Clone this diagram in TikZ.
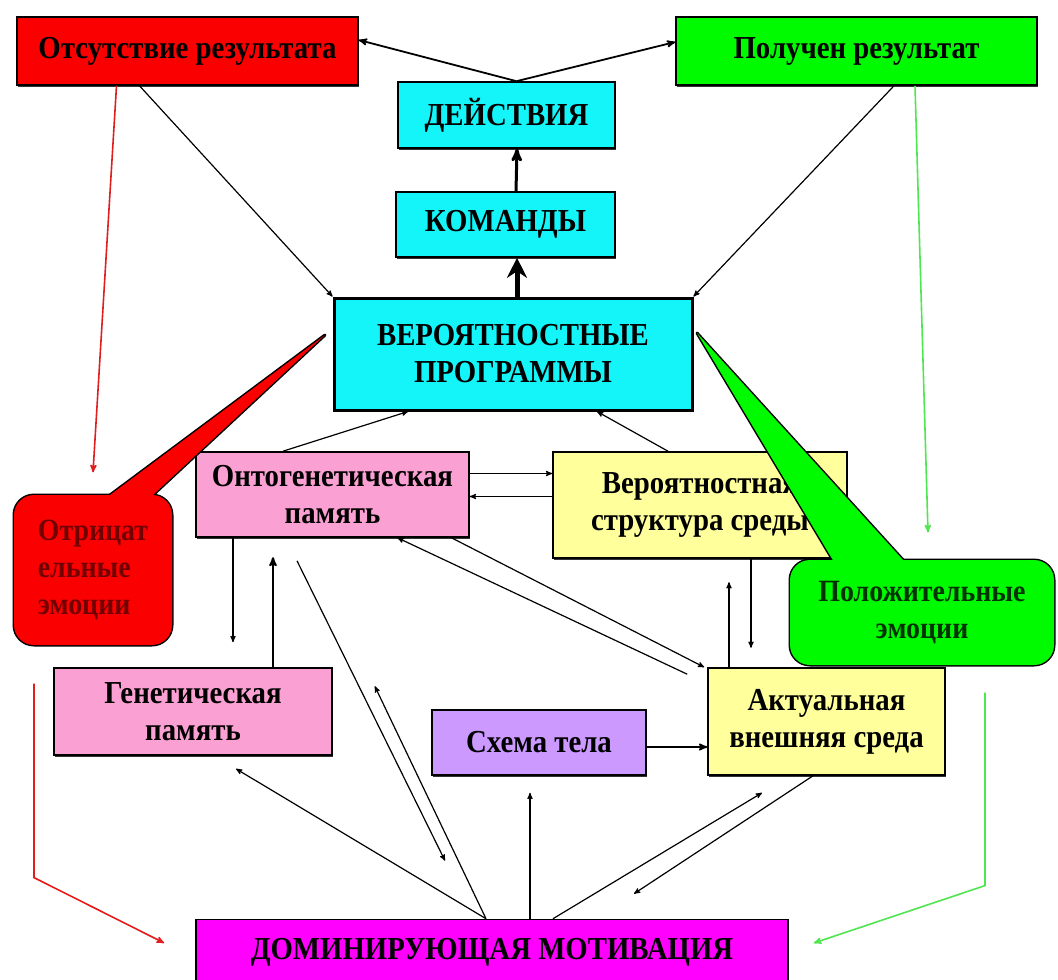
\documentclass[tikz,border=0pt]{standalone}
\usepackage{fontspec}
\setmainfont{Liberation Serif}[FakeStretch=0.9]
\usetikzlibrary{arrows,arrows.meta,shadows}

\definecolor{redbox}{RGB}{250,0,0}
\definecolor{greenbox}{RGB}{0,250,0}
\definecolor{cyanbox}{RGB}{20,245,250}
\definecolor{pinkbox}{RGB}{250,160,210}
\definecolor{yellowbox}{RGB}{255,255,155}
\definecolor{lilacbox}{RGB}{204,153,255}
\definecolor{magentabox}{RGB}{255,0,255}
\definecolor{redline}{RGB}{225,30,30}
\definecolor{greenline}{RGB}{80,230,80}

\begin{document}
\begin{tikzpicture}[
                        x=1pt,
                        y=-1pt,
                        ->,
                        >=stealth',
                        line width=1.2pt
                    ]
                    \tikzstyle{box}=[draw=black,line width=1.6pt,inner sep=0pt,align=center,
                        drop shadow={shadow xshift=1pt,shadow yshift=-2pt,opacity=1,fill=black!80},
                        font=\fontsize{32}{37}\selectfont\bfseries]
                    \tikzstyle{capsbox}=[box,font=\fontsize{32}{37}\selectfont\bfseries]
                    \tikzstyle{callout}=[inner sep=0pt,rounded corners=20pt,
                        preaction={draw=black,line width=3pt},
                        font=\fontsize{31}{37}\selectfont\bfseries]
                    \tikzstyle{pointer}=[-,draw=black,line width=3pt,line join=round]
                    \tikzstyle{thin}=[line width=1.2pt]
                    \tikzstyle{redarrow}=[redline,line width=1.6pt]
                    \tikzstyle{greenarrow}=[greenline,line width=1.6pt]

                    \useasboundingbox (0,0) rectangle (1058,980);

                    % top row
                    \node[box,fill=redbox,minimum width=341pt,minimum height=68pt]   (otsut)  at (187.5,51) {Отсутствие результата};
                    \node[box,fill=greenbox,minimum width=361pt,minimum height=68pt] (poluch) at (856.5,51) {Получен результат};
                    \node[capsbox,fill=cyanbox,minimum width=217pt,minimum height=66pt] (deistv) at (506.5,115) {ДЕЙСТВИЯ};
                    \node[capsbox,fill=cyanbox,minimum width=219pt,minimum height=65pt] (komand) at (505.5,224.5) {КОМАНДЫ};
                    \node[capsbox,fill=cyanbox,line width=3pt,minimum width=358pt,minimum height=112pt] (verprog) at (513,354) {ВЕРОЯТНОСТНЫЕ\\ПРОГРАММЫ};

                    % middle row
                    \node[box,fill=pinkbox,minimum width=273pt,minimum height=85pt]    (onto)   at (332.5,494.5) {Онтогенетическая\\память};
                    \node[box,fill=yellowbox,minimum width=294pt,minimum height=106pt] (verstr) at (700,505) {Вероятностная\\структура среды};

                    % bottom row
                    \node[box,fill=pinkbox,minimum width=278pt,minimum height=87pt]    (genet)  at (193,711.5) {Генетическая\\память};
                    \node[box,fill=lilacbox,minimum width=214pt,minimum height=65pt]   (shema)  at (539,742.5) {Схема тела};
                    \node[box,fill=yellowbox,minimum width=237pt,minimum height=107pt] (aktual) at (826.5,721.5) {Актуальная\\внешняя среда};
                    \node[capsbox,fill=magentabox,minimum width=592pt,minimum height=66pt] (domin) at (492,952.5) {ДОМИНИРУЮЩАЯ МОТИВАЦИЯ};

                    % emotions
                    \coordinate (otrictip) at (325,335);
                    \coordinate (otrica)   at (92.5,508);
                    \coordinate (otricb)   at (139,508);
                    \draw[pointer] (otrica) -- (otrictip) -- (otricb) -- cycle;
                    \node[callout,fill=redbox,text=red!45!black,align=left,minimum width=158pt,minimum height=150pt] (otric) at (93,570) {Отрицат\\ельные\\эмоции};
                    \fill[redbox] (otrica) -- (otrictip) -- (otricb) -- cycle;

                    \coordinate (poloztip) at (697,333);
                    \coordinate (poloza)   at (840,572);
                    \coordinate (polozb)   at (914,572);
                    \draw[pointer] (poloza) -- (poloztip) -- (polozb) -- cycle;
                    \node[callout,fill=greenbox,text=green!20!black,align=center,minimum width=264pt,minimum height=105pt] (poloz) at (922,612.5) {Положительные\\эмоции};
                    \fill[greenbox] (poloza) -- (poloztip) -- (polozb) -- cycle;

                    % feedback from the actions
                    \draw[line width=1.8pt] ([xshift=10pt]deistv.north) -- ([yshift=11pt]otsut.east);
                    \draw[line width=1.8pt] ([xshift=10pt]deistv.north) -- ([yshift=9pt]poluch.west);
                    \draw[line width=3pt] ([xshift=10.5pt]komand.north) -- ([xshift=10.5pt]deistv.south);
                    \draw[-{Stealth[length=20pt,width=20pt]},line width=5pt] ([xshift=4pt]verprog.north) -- ([xshift=4pt]verprog.north |- komand.south);
                    \draw[thin] ([xshift=-48pt]otsut.south) -- (verprog.north west);
                    \draw[thin] ([xshift=37.5pt]poluch.south) -- (verprog.north east);
                    \draw[redarrow] ([xshift=-71pt]otsut.south) -- ([yshift=22pt]otric.north);
                    \draw[greenarrow] ([xshift=58.5pt]poluch.south) -- ([xshift=6pt,yshift=27pt]poloz.north);

                    % memory and environment
                    \draw[thin] ([xshift=-49.5pt]onto.north) -- ([xshift=-105pt]verprog.south);
                    \draw[thin] ([xshift=-32pt]verstr.north) -- ([xshift=84pt]verprog.south);
                    \draw[thin] ([yshift=21pt]onto.east) -- ([yshift=21pt]onto.east -| verstr.west);
                    \draw[thin] ([yshift=-2pt]onto.east -| verstr.west) -- ([yshift=-2pt]onto.east);
                    \draw[thin] ([xshift=-99.5pt]onto.south) -- ([xshift=40pt,yshift=25pt]genet.north);
                    \draw[line width=2pt] ([xshift=80pt]genet.north) -- ([xshift=80pt,yshift=110pt]genet.north);
                    \draw[thin] ([xshift=-20pt,yshift=-7pt]aktual.north west) -- ([xshift=65pt]onto.south);
                    \draw[thin] ([xshift=119pt]onto.south) -- ([xshift=-3pt]aktual.north west);
                    \draw[thin] ([xshift=51pt]verstr.south) -- ([xshift=51pt,yshift=-89pt]verstr.south);
                    \draw[thin] ([xshift=-97.5pt]aktual.north) -- ([xshift=-97.5pt,yshift=85pt]aktual.north);
                    \draw[line width=1.8pt] ([yshift=-4.5pt]shema.east) -- ([yshift=-4.5pt]shema.east -| aktual.west);

                    % motivation
                    \draw[thin] ([xshift=-6pt]domin.north) -- ([xshift=43pt,yshift=-13pt]genet.south);
                    \draw[thin] ([xshift=-6pt]domin.north) -- ([xshift=42pt,yshift=-19pt]genet.north east);
                    \draw[thin] ([xshift=-35.5pt,yshift=-23pt]onto.south) -- ([xshift=-47pt,yshift=58pt]domin.north);
                    \draw[thin] ([xshift=38pt]domin.north) -- ([xshift=-9pt,yshift=-17pt]shema.south);
                    \draw[thin] ([xshift=61pt]domin.north) -- ([xshift=-64.5pt,yshift=-17pt]aktual.south);
                    \draw[thin] ([xshift=-13.5pt]aktual.south) -- ([xshift=142pt,yshift=25pt]domin.north);
                    \draw[redarrow] ([xshift=-59pt,yshift=-38pt]otric.south) -- ++(0,194) -- ([xshift=-31pt,yshift=9.5pt]domin.west);
                    \draw[greenarrow] ([xshift=63pt,yshift=-27pt]poloz.south) -- ++(0,193) -- ([xshift=25pt,yshift=9.5pt]domin.east);
                \end{tikzpicture}
\end{document}
